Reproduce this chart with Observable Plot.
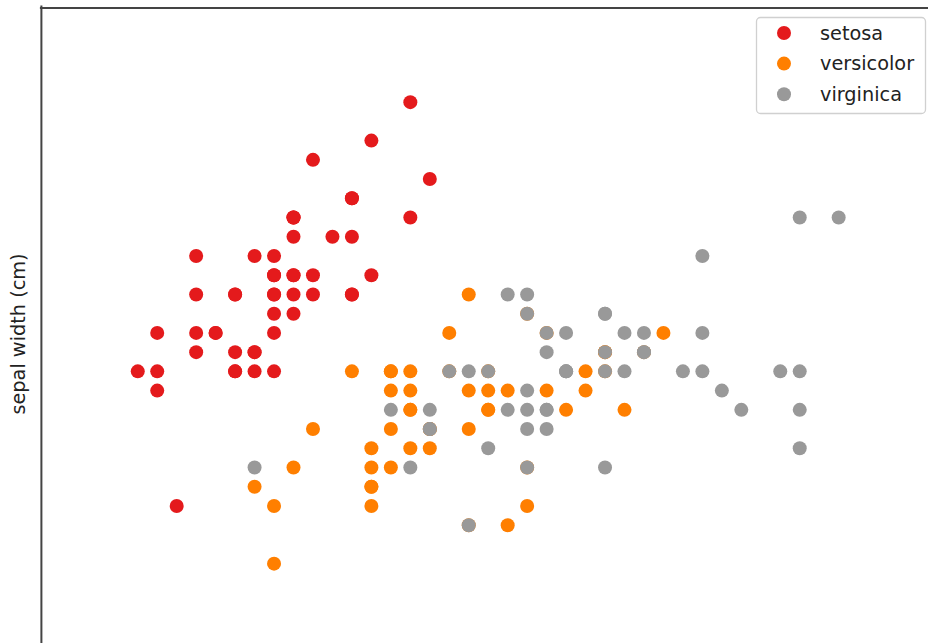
<!DOCTYPE html>
<html>
<head>
<meta charset="utf-8">
<script src="https://cdn.jsdelivr.net/npm/d3@7"></script>
<script src="https://cdn.jsdelivr.net/npm/@observablehq/plot@0.6"></script>
<style>
  html, body { margin: 0; padding: 0; background: #fff; }
  #chart svg { display: block; overflow: hidden; }
</style>
</head>
<body>
<div id="chart"></div>
<script>
const speciesNames = ["setosa", "versicolor", "virginica"];
const speciesColors = ["#e41a1c", "#ff7f00", "#999999"];

const setosaLength = [5.1,4.9,4.7,4.6,5.0,5.4,4.6,5.0,4.4,4.9,5.4,4.8,4.8,4.3,5.8,5.7,5.4,5.1,5.7,5.1,5.4,5.1,4.6,5.1,4.8,5.0,5.0,5.2,5.2,4.7,4.8,5.4,5.2,5.5,4.9,5.0,5.5,4.9,4.4,5.1,5.0,4.5,4.4,5.0,5.1,4.8,5.1,4.6,5.3,5.0];
const setosaWidth  = [3.5,3.0,3.2,3.1,3.6,3.9,3.4,3.4,2.9,3.1,3.7,3.4,3.0,3.0,4.0,4.4,3.9,3.5,3.8,3.8,3.4,3.7,3.6,3.3,3.4,3.0,3.4,3.5,3.4,3.2,3.1,3.4,4.1,4.2,3.1,3.2,3.5,3.6,3.0,3.4,3.5,2.3,3.2,3.5,3.8,3.0,3.8,3.2,3.7,3.3];

const versicolorLength = [7.0,6.4,6.9,5.5,6.5,5.7,6.3,4.9,6.6,5.2,5.0,5.9,6.0,6.1,5.6,6.7,5.6,5.8,6.2,5.6,5.9,6.1,6.3,6.1,6.4,6.6,6.8,6.7,6.0,5.7,5.5,5.5,5.8,6.0,5.4,6.0,6.7,6.3,5.6,5.5,5.5,6.1,5.8,5.0,5.6,5.7,5.7,6.2,5.1,5.7];
const versicolorWidth  = [3.2,3.2,3.1,2.3,2.8,2.8,3.3,2.4,2.9,2.7,2.0,3.0,2.2,2.9,2.9,3.1,3.0,2.7,2.2,2.5,3.2,2.8,2.5,2.8,2.9,3.0,2.8,3.0,2.9,2.6,2.4,2.4,2.7,2.7,3.0,3.4,3.1,2.3,3.0,2.5,2.6,3.0,2.6,2.3,2.7,3.0,2.9,2.9,2.5,2.8];

const virginicaLength = [6.3,5.8,7.1,6.3,6.5,7.6,4.9,7.3,6.7,7.2,6.5,6.4,6.8,5.7,5.8,6.4,6.5,7.7,7.7,6.0,6.9,5.6,7.7,6.3,6.7,7.2,6.2,6.1,6.4,7.2,7.4,7.9,6.4,6.3,6.1,7.7,6.3,6.4,6.0,6.9,6.7,6.9,5.8,6.8,6.7,6.7,6.3,6.5,6.2,5.9];
const virginicaWidth  = [3.3,2.7,3.0,2.9,3.0,3.0,2.5,2.9,2.5,3.6,3.2,2.7,3.0,2.5,2.8,3.2,3.0,3.8,2.6,2.2,3.2,2.8,2.8,2.7,3.3,3.2,2.8,3.0,2.8,3.0,2.8,3.8,2.8,2.8,2.6,3.0,3.4,3.1,3.0,3.1,3.1,3.1,2.7,3.2,3.3,3.0,2.5,3.0,3.4,3.0];

const lengths = [setosaLength, versicolorLength, virginicaLength];
const widths = [setosaWidth, versicolorWidth, virginicaWidth];
const flowers = [];
speciesNames.forEach((s, k) => {
  lengths[k].forEach((v, i) => flowers.push({species: s, length: v, width: widths[k][i]}));
});

const W = 928, H = 643;
const mLeft = 39.9, mTop = 5.5;
const pxPerX = 194.7, pxPerY = 192.3;
const xMin = 3.8, yMax = 4.9;

const chart = Plot.plot({
  width: W, height: H,
  marginLeft: mLeft, marginRight: 0, marginTop: mTop, marginBottom: 0,
  x: {domain: [xMin, xMin + (W - mLeft) / pxPerX], axis: null},
  y: {domain: [yMax - (H - mTop) / pxPerY, yMax], axis: null},
  color: {domain: speciesNames, range: speciesColors},
  marks: [
    Plot.dot(flowers, {x: "length", y: "width", fill: "species", r: 7, stroke: null}),
    Plot.ruleX([xMin], {stroke: "#444", strokeWidth: 2, dx: 1}),
    Plot.ruleY([yMax], {stroke: "#444", strokeWidth: 2, dy: 2})
  ]
});
document.getElementById("chart").appendChild(chart);

const svg = d3.select(chart);
svg.append("text")
  .attr("transform", "translate(19,334) rotate(-90)")
  .attr("text-anchor", "middle")
  .attr("dominant-baseline", "middle")
  .attr("font-family", "DejaVu Sans")
  .attr("font-size", 19.3)
  .attr("fill", "#222")
  .text("sepal width (cm)");

const lg = svg.append("g");
lg.append("rect")
  .attr("x", 756.5).attr("y", 17.5).attr("width", 169).attr("height", 96)
  .attr("rx", 4).attr("fill", "#fff").attr("fill-opacity", 0.8)
  .attr("stroke", "#d0d0d0").attr("stroke-width", 1.3);
speciesNames.forEach((s, i) => {
  const cy = 33 + i * 30.6;
  lg.append("circle").attr("cx", 784).attr("cy", cy).attr("r", 7).attr("fill", speciesColors[i]);
  lg.append("text")
    .attr("x", 820).attr("y", cy)
    .attr("text-anchor", "start")
    .attr("dominant-baseline", "central")
    .attr("font-family", "DejaVu Sans")
    .attr("font-size", 19.3)
    .attr("fill", "#222")
    .text(s);
});
</script>
</body>
</html>
